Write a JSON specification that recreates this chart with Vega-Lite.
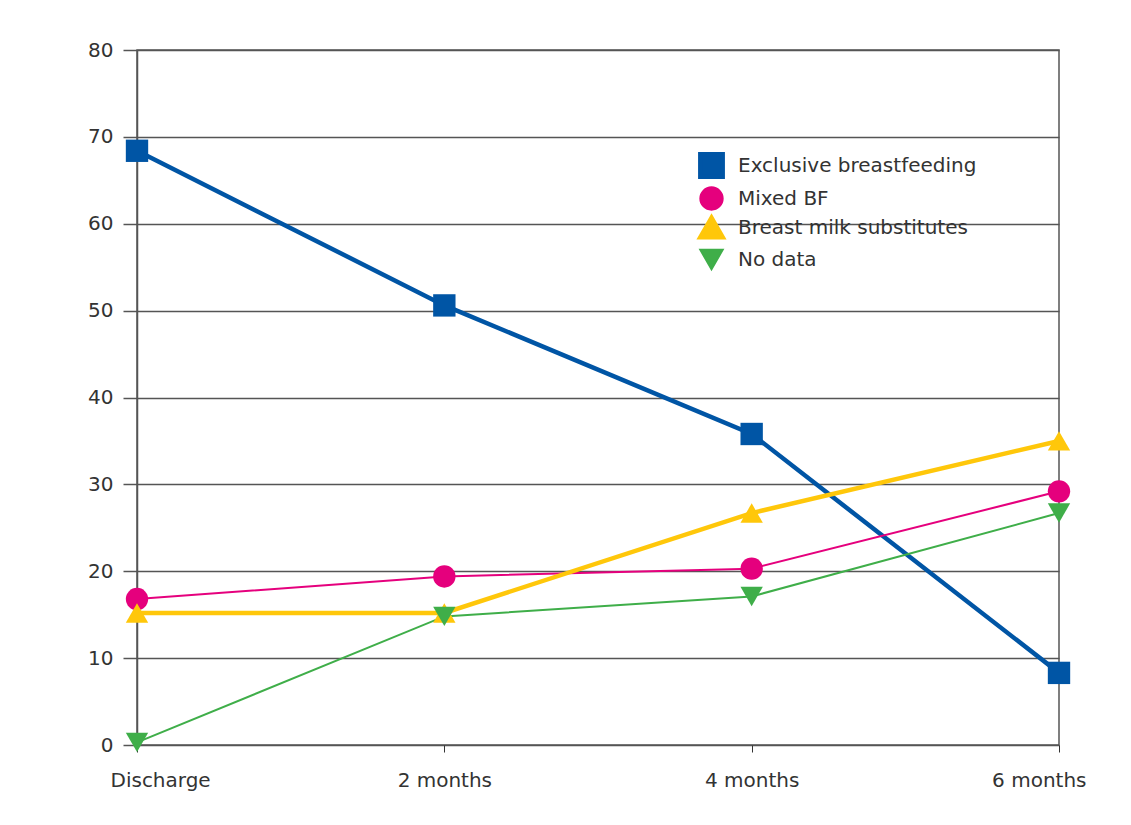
{
  "$schema": "https://vega.github.io/schema/vega-lite/v6.json",
  "width": 922,
  "height": 695,
  "autosize": {"type": "none"},
  "padding": {"left": 137, "top": 50, "right": 72, "bottom": 80},
  "background": "#ffffff",
  "config": {
    "font": "DejaVu Sans",
    "view": {"stroke": "#555555", "strokeWidth": 1.5},
    "axis": {
      "labelFont": "DejaVu Sans",
      "labelFontSize": 20,
      "labelColor": "#333333",
      "tickColor": "#333333",
      "domainColor": "#555555",
      "domainWidth": 1.5,
      "gridColor": "#555555",
      "gridWidth": 1.5,
      "gridOpacity": 1,
      "title": null
    },
    "legend": {
      "labelFont": "DejaVu Sans",
      "labelFontSize": 20,
      "labelColor": "#333333",
      "labelLimit": 0,
      "symbolSize": 500,
      "symbolOpacity": 1,
      "labelOffset": 13,
      "rowPadding": -6
    }
  },
  "data": {
    "values": [
      {"series": "Exclusive breastfeeding", "time": "Discharge", "value": 68.4},
      {"series": "Exclusive breastfeeding", "time": "2 months", "value": 50.6},
      {"series": "Exclusive breastfeeding", "time": "4 months", "value": 35.8},
      {"series": "Exclusive breastfeeding", "time": "6 months", "value": 8.3},
      {"series": "Mixed BF", "time": "Discharge", "value": 16.8},
      {"series": "Mixed BF", "time": "2 months", "value": 19.4},
      {"series": "Mixed BF", "time": "4 months", "value": 20.3},
      {"series": "Mixed BF", "time": "6 months", "value": 29.2},
      {"series": "Breast milk substitutes", "time": "Discharge", "value": 15.2},
      {"series": "Breast milk substitutes", "time": "2 months", "value": 15.2},
      {"series": "Breast milk substitutes", "time": "4 months", "value": 26.7},
      {"series": "Breast milk substitutes", "time": "6 months", "value": 35.0},
      {"series": "No data", "time": "Discharge", "value": 0.3},
      {"series": "No data", "time": "2 months", "value": 14.8},
      {"series": "No data", "time": "4 months", "value": 17.1},
      {"series": "No data", "time": "6 months", "value": 26.7}
    ]
  },
  "encoding": {
    "x": {
      "field": "time",
      "type": "ordinal",
      "scale": {"type": "point", "padding": 0, "domain": ["Discharge", "2 months", "4 months", "6 months"]},
      "axis": {
        "labelAngle": 0,
        "labelFontSize": 20,
        "tickSize": 7,
        "labelPadding": 18,
        "labelFlush": true,
        "labelFlushOffset": 27,
        "domain": false,
        "grid": false
      }
    },
    "y": {
      "field": "value",
      "type": "quantitative",
      "scale": {"domain": [0, 80], "nice": false},
      "axis": {
        "values": [0, 10, 20, 30, 40, 50, 60, 70, 80],
        "labelFontSize": 20,
        "tickSize": 14,
        "tickColor": "#555555",
        "tickWidth": 1.5,
        "labelPadding": 10,
        "grid": true,
        "domain": true
      }
    },
    "color": {
      "field": "series",
      "type": "nominal",
      "scale": {
        "domain": ["Exclusive breastfeeding", "Mixed BF", "Breast milk substitutes", "No data"],
        "range": ["#0055A5", "#E5007D", "#FFC70A", "#3FAE49"]
      },
      "legend": {
        "title": null,
        "orient": "none",
        "legendX": 561,
        "legendY": 102
      }
    }
  },
  "layer": [
    {
      "mark": {"type": "line"},
      "encoding": {
        "strokeWidth": {
          "field": "series",
          "type": "nominal",
          "scale": {
            "type": "ordinal",
            "domain": ["Exclusive breastfeeding", "Mixed BF", "Breast milk substitutes", "No data"],
            "range": [4.5, 2, 4.5, 2]
          },
          "legend": null
        }
      }
    },
    {
      "mark": {"type": "point", "filled": true, "opacity": 1, "size": 500},
      "encoding": {
        "shape": {
          "field": "series",
          "type": "nominal",
          "scale": {
            "domain": ["Exclusive breastfeeding", "Mixed BF", "Breast milk substitutes", "No data"],
            "range": ["square", "circle", "triangle-up", "triangle-down"]
          },
          "legend": {
            "title": null,
            "orient": "none",
            "legendX": 561,
            "legendY": 102
          }
        }
      }
    }
  ]
}
